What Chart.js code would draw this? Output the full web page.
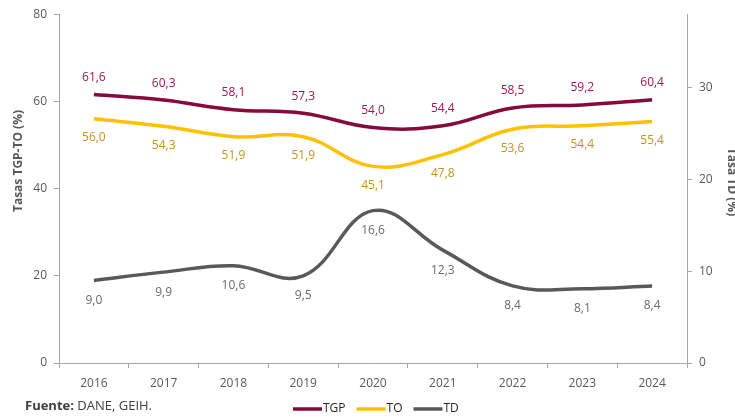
<!DOCTYPE html>
<html>
<head>
<meta charset="utf-8">
<script src="https://cdn.jsdelivr.net/npm/chart.js@4/dist/chart.umd.min.js"></script>
<style>
    html, body { margin: 0; padding: 0; background: #fff; overflow: hidden; }
    #wrap { width: 735px; height: 419px; }
</style>
</head>
<body>
<div id="wrap"><canvas id="chart" width="735" height="419"></canvas></div>
<script>
// data
const years = ['2016', '2017', '2018', '2019', '2020', '2021', '2022', '2023', '2024'];
const tgp = [61.6, 60.3, 58.1, 57.3, 54.0, 54.4, 58.5, 59.2, 60.4];
const to = [56.0, 54.3, 51.9, 51.9, 45.1, 47.8, 53.6, 54.4, 55.4];
const td = [9.0, 9.9, 10.6, 9.5, 16.6, 12.3, 8.4, 8.1, 8.4];

const FONT = "'Open Sans', 'Noto Sans', sans-serif";
const GREY = '#595959';
const AXIS = '#a6a6a6';

// value labels, comma decimals (datalabels plugin is not available offline)
const valueLabels = {
    id: 'valueLabels',
    afterDatasetsDraw(chart) {
        const ctx = chart.ctx;
        ctx.save();
        ctx.font = '12px ' + FONT;
        ctx.textAlign = 'center';
        ctx.textBaseline = 'middle';
        chart.data.datasets.forEach((ds, i) => {
            const meta = chart.getDatasetMeta(i);
            meta.data.forEach((pt, j) => {
                const txt = ds.data[j].toFixed(1).replace('.', ',');
                ctx.fillStyle = ds.labelColor;
                ctx.fillText(txt, pt.x, pt.y + ds.labelOffset);
            });
        });
        ctx.restore();
    }
};

// axis titles, legend and source note
const extras = {
    id: 'extras',
    afterDraw(chart) {
        const ctx = chart.ctx;
        ctx.save();
        ctx.fillStyle = GREY;
        ctx.font = 'bold 12px ' + FONT;
        ctx.textAlign = 'center';

        ctx.save();
        ctx.translate(19, 161);
        ctx.rotate(-Math.PI / 2);
        ctx.textBaseline = 'middle';
        ctx.fillText('Tasas TGP-TO (%)', 0, 0);
        ctx.restore();

        ctx.save();
        ctx.translate(728, 182);
        ctx.rotate(Math.PI / 2);
        ctx.textBaseline = 'alphabetic';
        ctx.fillText('Tasa TD (%)', 0, 0);
        ctx.restore();

        // legend
        let x = 293;
        const y = 409;
        ctx.textAlign = 'left';
        ctx.textBaseline = 'middle';
        ctx.font = '12px ' + FONT;
        chart.data.datasets.forEach(ds => {
            ctx.strokeStyle = ds.borderColor;
            ctx.lineWidth = 3.5;
            ctx.beginPath();
            ctx.moveTo(x, y);
            ctx.lineTo(x + 29, y);
            ctx.stroke();
            ctx.fillStyle = '#262626';
            ctx.fillText(ds.label, x + 30, y);
            x += 30 + ctx.measureText(ds.label).width + 11;
        });

        // source
        ctx.fillStyle = '#404040';
        ctx.font = 'bold 13px ' + FONT;
        ctx.fillText('Fuente:', 25, 406);
        const w = ctx.measureText('Fuente: ').width;
        ctx.font = '13px ' + FONT;
        ctx.fillText('DANE, GEIH.', 25 + w, 406);
        ctx.restore();
    }
};

new Chart(document.getElementById('chart'), {
    type: 'line',
    data: {
        labels: years,
        datasets: [
            {
                label: 'TGP', data: tgp, yAxisID: 'y',
                borderColor: '#860a3d', labelColor: '#a0184f', labelOffset: -17,
            },
            {
                label: 'TO', data: to, yAxisID: 'y',
                borderColor: '#ffc000', labelColor: '#c98f22', labelOffset: 19,
            },
            {
                label: 'TD', data: td, yAxisID: 'y1',
                borderColor: '#595959', labelColor: '#6a6a6a', labelOffset: 20,
            },
        ].map(ds => Object.assign(ds, {
            borderWidth: 3.5,
            tension: 0.4,
            pointRadius: 0,
            fill: false,
        }))
    },
    options: {
        responsive: false,
        animation: false,
        layout: { padding: { top: 12, left: 0, right: 0, bottom: 0 } },
        plugins: {
            legend: { display: false },
            tooltip: { enabled: false },
        },
        scales: {
            x: {
                offset: true,
                grid: { drawOnChartArea: false, tickLength: 5, color: AXIS, offset: true },
                border: { color: AXIS, width: 1 },
                ticks: { color: GREY, font: { family: FONT, size: 12 }, padding: 8, maxRotation: 0 },
                afterFit: s => { s.height = 56; },
            },
            y: {
                position: 'left',
                min: 0, max: 80,
                grid: { drawOnChartArea: false, tickLength: 5, color: AXIS },
                border: { color: AXIS, width: 1 },
                ticks: { stepSize: 20, color: GREY, font: { family: FONT, size: 12 }, padding: 7 },
                afterFit: s => { s.width = 59; },
            },
            y1: {
                position: 'right',
                min: 0, max: 38,
                grid: { drawOnChartArea: false, tickLength: 5, color: AXIS },
                border: { color: AXIS, width: 1 },
                ticks: { stepSize: 10, includeBounds: false, color: GREY, font: { family: FONT, size: 12 }, padding: 7 },
                afterFit: s => { s.width = 48; },
            },
        },
    },
    plugins: [valueLabels, extras],
});
</script>
</body>
</html>
